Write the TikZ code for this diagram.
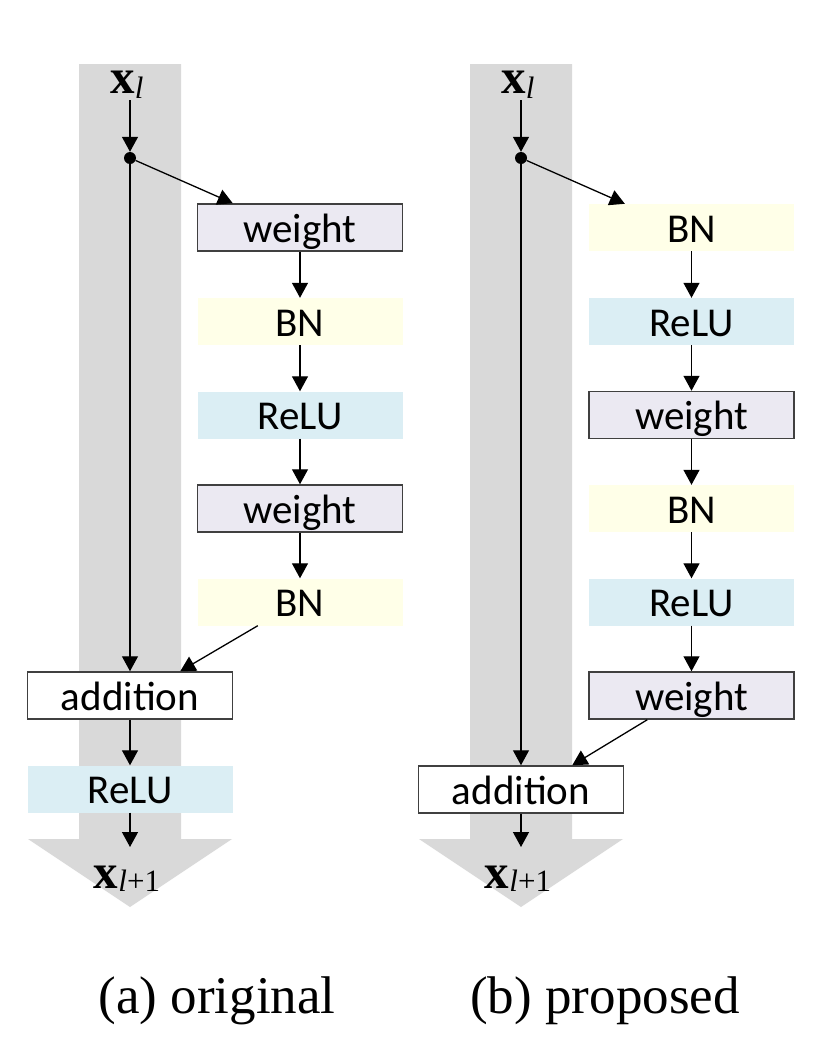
\documentclass[tikz,border=0pt]{standalone}
\usepackage{fontspec}
\setmainfont{Liberation Serif}
\newfontfamily\boxfont{Carlito}
\usetikzlibrary{arrows.meta}
\definecolor{bandgray}{HTML}{D9D9D9}
\definecolor{wfill}{HTML}{EBE9F2}
\definecolor{bnfill}{HTML}{FFFFE8}
\definecolor{relufill}{HTML}{DBEEF4}
\definecolor{boxline}{HTML}{404040}
\newcommand{\vx}{{\bfseries x}}
\begin{document}
\begin{tikzpicture}[x=1pt,y=-1pt,
  blk/.style={minimum width=205pt,minimum height=47pt,inner sep=0pt,text height=29pt,text depth=0pt,font=\boxfont\fontsize{41}{41}\selectfont},
  wbox/.style={blk,draw=boxline,line width=1.5pt,fill=wfill},
  bnbox/.style={blk,fill=bnfill},
  relubox/.style={blk,fill=relufill},
  addbox/.style={blk,draw=boxline,line width=1.5pt,fill=white},
  conn/.style={line width=1.3pt,-{Triangle[length=15pt,width=16pt]}},
  dotst/.style={circle,fill=black,minimum size=12pt,inner sep=0pt},
  vlabel/.style={anchor=base,inner sep=2pt,font=\fontsize{49}{49}\selectfont},
  captext/.style={anchor=base,inner sep=0pt,font=\fontsize{53}{53}\selectfont}]
\useasboundingbox (0,0) rectangle (826,1060);
% background bands
\fill[bandgray] (79,64) -- (181,64) -- (181,839) -- (232,839) -- (130,907) -- (28,839) -- (79,839) -- cycle;
\fill[bandgray] (470,64) -- (572,64) -- (572,839) -- (623,839) -- (521,907) -- (419,839) -- (470,839) -- cycle;

% ---------- (a) original ----------
\node[vlabel] (xa) at (127,93) {\vx\raisebox{-5pt}{\fontsize{31}{31}\selectfont\itshape l}};
\node[dotst] (da) at (130,158) {};
\node[wbox] (wa1) at (300,227.5) {weight};
\node[bnbox] (ba1) at (300,321.5) {BN};
\node[relubox] (ra1) at (300,415) {ReLU};
\node[wbox] (wa2) at (300,508.5) {weight};
\node[bnbox] (ba2) at (300,602) {BN};
\node[addbox] (adda) at (130,695.5) {addition};
\node[relubox] (ra3) at (130,789) {ReLU};
\coordinate (ea) at (130,847);
\node[vlabel] (xa1) at (127,888) {\vx\raisebox{-3pt}{\fontsize{31}{31}\selectfont{\itshape l}+1}};

\draw[conn] (da |- xa.south) -- (da.north);
\draw[conn] (da) -- ([xshift=36pt]wa1.north west);
\draw[conn] (wa1) -- (ba1);
\draw[conn] (ba1) -- (ra1);
\draw[conn] (ra1) -- (wa2);
\draw[conn] (wa2) -- (ba2);
\draw[conn] ([xshift=60.5pt]ba2.south west) -- ([xshift=-53pt]adda.north east);
\draw[conn] (da) -- (da |- adda.north);
\draw[conn] (adda) -- (ra3);
\draw[conn] (ra3) -- (ea);

% ---------- (b) proposed ----------
\node[vlabel] (xb) at (518,93) {\vx\raisebox{-5pt}{\fontsize{31}{31}\selectfont\itshape l}};
\node[dotst] (db) at (521,158) {};
\node[bnbox] (bb1) at (691.5,227.5) {BN};
\node[relubox] (rb1) at (691.5,321.5) {ReLU};
\node[wbox] (wb1) at (691.5,415) {weight};
\node[bnbox] (bb2) at (691.5,508.5) {BN};
\node[relubox] (rb2) at (691.5,602) {ReLU};
\node[wbox] (wb2) at (691.5,695.5) {weight};
\node[addbox] (addb) at (521,789.5) {addition};
\coordinate (eb) at (521,847);
\node[vlabel] (xb1) at (518,888) {\vx\raisebox{-3pt}{\fontsize{31}{31}\selectfont{\itshape l}+1}};

\draw[conn] (db |- xb.south) -- (db.north);
\draw[conn] (db) -- ([xshift=36pt]bb1.north west);
\draw[conn] (bb1) -- (rb1);
\draw[conn] (rb1) -- (wb1);
\draw[conn] (wb1) -- (bb2);
\draw[conn] (bb2) -- (rb2);
\draw[conn] (rb2) -- (wb2);
\draw[conn] ([xshift=59pt]wb2.south west) -- ([xshift=-52pt]addb.north east);
\draw[conn] (db) -- (db |- addb.north);
\draw[conn] (addb) -- (eb);

% captions
\node[captext] (capa) at (217,1013) {(a) original};
\node[captext] (capb) at (605,1013) {(b) proposed};
\end{tikzpicture}
\end{document}
